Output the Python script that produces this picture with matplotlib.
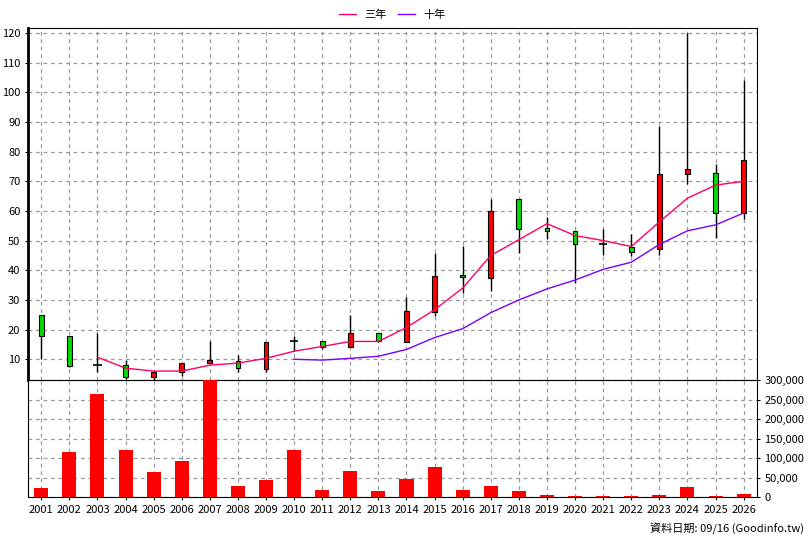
import matplotlib
matplotlib.use('Agg')
import matplotlib.pyplot as plt
import numpy as np

plt.rcParams['font.family'] = ['Noto Sans CJK TC', 'DejaVu Sans']

years = list(range(2001, 2027))
opens = [25, 17.7, 8, 8, 4, 5.7, 8.7, 9.3, 6.7, 16, 16.3, 14, 19, 15.7,
         26, 38.3, 37.3, 64, 54.3, 53.3, 48.7, 48, 47, 72.3, 72.7, 59.3]
closes = [18, 7.8, 8, 4, 5.7, 8.7, 9.7, 7, 15.7, 16, 14, 19, 16.3, 26.3,
          38, 37.7, 60, 54, 53.3, 48.7, 48.7, 46.3, 72.3, 74, 59.3, 77.3]
highs = [25, 17.7, 19, 9.7, 5.7, 8.7, 16.3, 11.3, 15.7, 18, 16.3, 25, 19, 31,
         45.7, 48.3, 64, 64, 58, 53.3, 54, 52.3, 88.7, 120, 75.7, 104]
lows = [10, 7.3, 5.7, 3.3, 3, 4.3, 8.7, 5.7, 5.7, 12.7, 13.3, 14, 15.7, 15.7,
        24.7, 32.3, 33, 45.7, 50.7, 35.7, 45, 44.7, 45.3, 69, 51, 57.3]
ma3 = [None, None, 10.7, 7, 6, 6, 8, 8.7, 10.3, 12.7, 14.3, 16, 16, 20.7,
       26.7, 34, 45, 50.3, 55.7, 51.7, 50, 48, 56.3, 64.3, 68.7, 70]
ma10 = [None] * 9 + [10, 9.7, 10.3, 11, 13.3, 17.3, 20.3, 25.7, 30, 33.7,
                     36.7, 40.3, 42.7, 48.7, 53.3, 55.3, 59.3]
volume = [23000, 115000, 264000, 120000, 64000, 92000, 300000, 28000, 44000,
          120000, 18000, 67000, 15000, 46000, 77000, 18000, 28000, 15000,
          4000, 2000, 2000, 2000, 5000, 26000, 2000, 7000]

x = np.arange(len(years))
fig = plt.figure(figsize=(8.08, 5.40), dpi=100)
ax = fig.add_axes([0.0347, 0.2963, 0.902, 0.652])
axv = fig.add_axes([0.0347, 0.0796, 0.902, 0.2167])

grid_kw = dict(color='#999999', linestyle=(0, (3, 3)), linewidth=0.9)

for i in x:
    o, c, h, l = opens[i], closes[i], highs[i], lows[i]
    ax.vlines(i, l, h, color='black', linewidth=1, zorder=3)
    if abs(c - o) < 0.4:
        ax.hlines(c, i - 0.15, i + 0.15, color='black', linewidth=1.2, zorder=4)
    else:
        col = '#ff0000' if c > o else '#00dd00'
        ax.bar(i, abs(c - o), bottom=min(o, c), width=0.17, color=col,
               edgecolor='black', linewidth=0.8, zorder=4)

m3 = [(i, v) for i, v in enumerate(ma3) if v is not None]
m10 = [(i, v) for i, v in enumerate(ma10) if v is not None]
ax.plot(*zip(*m3), color='#ff0066', linewidth=1, label='三年', zorder=5)
ax.plot(*zip(*m10), color='#7700ff', linewidth=1, label='十年', zorder=5)

ax.set_xlim(-0.47, 25.47)
ax.set_ylim(3, 121.7)
ax.set_yticks(range(10, 121, 10))
ax.set_xticks(x)
ax.tick_params(axis='x', labelbottom=False, length=0)
ax.tick_params(axis='y', labelsize=8, length=2)
ax.grid(True, **grid_kw)
ax.set_axisbelow(True)
ax.spines['left'].set_linewidth(2)
ax.legend(loc='lower center', bbox_to_anchor=(0.5, 1.0), ncol=2, frameon=False,
          fontsize=8, handlelength=1.5, borderpad=0.2, columnspacing=1)

axv.bar(x, volume, width=0.5, color='#ff0000', zorder=3)
axv.set_xlim(-0.47, 25.47)
axv.set_ylim(0, 300000)
axv.set_yticks(range(0, 300001, 50000))
axv.yaxis.tick_right()
axv.yaxis.set_major_formatter(matplotlib.ticker.FuncFormatter(lambda v, p: f'{int(v):,}'))
axv.set_xticks(x)
axv.set_xticklabels([str(y) for y in years])
axv.tick_params(axis='both', labelsize=8, length=2)
axv.grid(True, **grid_kw)
axv.set_axisbelow(True)

fig.text(0.995, 0.01, '資料日期: 09/16 (Goodinfo.tw)', ha='right', va='bottom', fontsize=8)
fig.savefig('out.png', dpi=100)
